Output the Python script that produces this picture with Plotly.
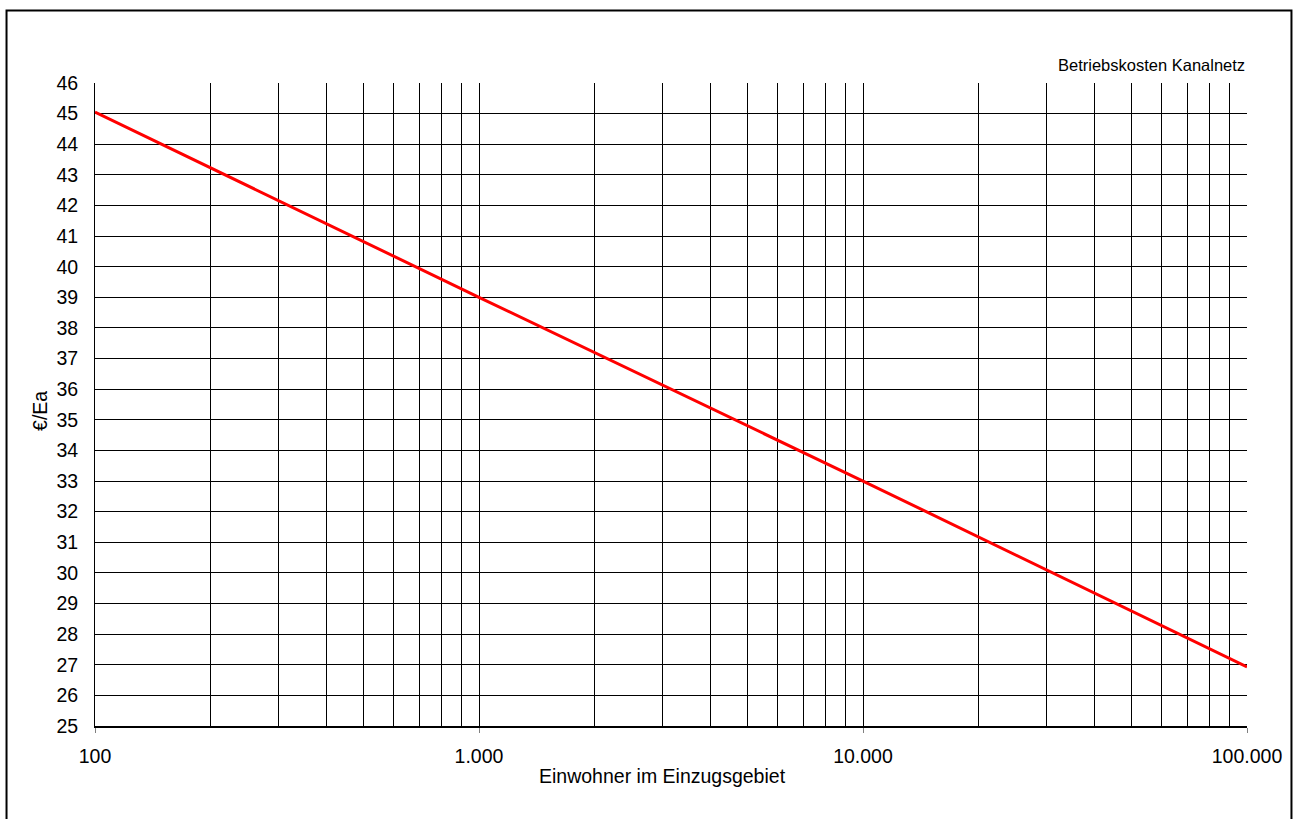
import plotly.graph_objects as go

# Data
einwohner = [100, 1000, 10000, 100000]
kosten = [45.05, 39.0, 33.0, 26.93]

x_major = [100, 1000, 10000, 100000]
x_major_text = ["100", "1.000", "10.000", "100.000"]
x_minor = [m * d for d in [100, 1000, 10000] for m in range(2, 10)]
y_ticks = list(range(25, 47))

FONT = "Liberation Sans, Arial, sans-serif"

fig = go.Figure()
fig.add_trace(go.Scatter(
    x=einwohner, y=kosten, mode="lines",
    line=dict(color="#FF0000", width=3),
    showlegend=False, hoverinfo="skip",
))

fig.update_layout(
    width=1293, height=819,
    margin=dict(l=95, r=46, t=83, b=93),
    paper_bgcolor="white", plot_bgcolor="white",
    font=dict(family=FONT, color="black", size=19),
    xaxis=dict(
        type="log", range=[2, 5],
        tickmode="array", tickvals=x_major, ticktext=x_major_text,
        ticks="outside", ticklen=5, tickcolor="#808080", tickwidth=1,
        showgrid=True, gridcolor="black", gridwidth=1,
        minor=dict(tickmode="array", tickvals=x_minor, showgrid=True,
                   gridcolor="black", gridwidth=1, ticks=""),
        showline=True, linecolor="black", linewidth=2,
        zeroline=False,
        tickfont=dict(size=19.5, family=FONT),
        ticklabelstandoff=7,
    ),
    yaxis=dict(
        range=[25, 46],
        tickmode="array", tickvals=y_ticks, ticktext=[str(v) for v in y_ticks],
        ticks="", showgrid=True, gridcolor="black", gridwidth=1,
        showline=True, linecolor="black", linewidth=1,
        zeroline=False,
        tickfont=dict(size=19.5, family=FONT),
        ticklabelstandoff=12,
    ),
    annotations=[
        dict(text="Betriebskosten Kanalnetz", xref="paper", yref="paper",
             x=1.0, y=1.0, xanchor="right", yanchor="bottom", yshift=7,
             showarrow=False, font=dict(size=16.5, family=FONT)),
        dict(text="Einwohner im Einzugsgebiet", xref="paper", yref="paper",
             x=0.493, y=0, xanchor="center", yanchor="middle", yshift=-50,
             showarrow=False, font=dict(size=19.5, family=FONT)),
        dict(text="€/Ea", xref="paper", yref="paper",
             x=0, y=0.49, xanchor="center", yanchor="middle", xshift=-55,
             textangle=-90, showarrow=False, font=dict(size=19.5, family=FONT)),
    ],
    shapes=[
        dict(type="rect", xref="paper", yref="paper",
             x0=-0.0768, x1=1.0386, y0=-0.2, y1=1.1128,
             line=dict(color="black", width=2), fillcolor="rgba(0,0,0,0)",
             layer="below"),
    ],
)

fig.write_html("out.html")
